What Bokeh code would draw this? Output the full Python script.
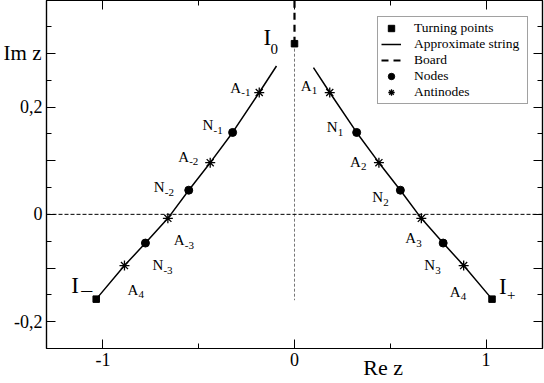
from bokeh.plotting import figure
from bokeh.models import (FixedTicker, LinearAxis, Span, Legend, LegendItem,
                          ColumnDataSource, Range1d)
from bokeh.embed import file_html
from bokeh.resources import INLINE
from bokeh.core.properties import value

# ---------------- data ----------------
# approximate string, left branch (from upper end down to I_-)
string_left_re = [-0.094, -0.184, -0.323, -0.440, -0.552, -0.661, -0.778, -0.8875, -1.035]
string_left_im = [0.2765, 0.227, 0.1526, 0.0963, 0.045, -0.0075, -0.0535, -0.0955, -0.158]
# approximate string, right branch (from upper end down to I_+)
string_right_re = [0.099, 0.184, 0.3245, 0.4406, 0.5526, 0.662, 0.776, 0.883, 1.031]
string_right_im = [0.2735, 0.227, 0.1526, 0.0963, 0.045, -0.0075, -0.0535, -0.0955, -0.158]

# turning points I_-, I_0, I_+
turn_names = ["I-", "I0", "I+"]
turn_re = [-1.035, 0.0, 1.031]
turn_im = [-0.158, 0.318, -0.158]

# nodes
node_names = ["N-3", "N-2", "N-1", "N1", "N2", "N3"]
node_re = [-0.778, -0.552, -0.323, 0.3245, 0.5526, 0.776]
node_im = [-0.0535, 0.045, 0.1526, 0.1526, 0.045, -0.0535]

# antinodes
anti_names = ["A4L", "A-3", "A-2", "A-1", "A1", "A2", "A3", "A4R"]
anti_re = [-0.8875, -0.661, -0.440, -0.184, 0.184, 0.4406, 0.662, 0.883]
anti_im = [-0.0955, -0.0075, 0.0963, 0.227, 0.227, 0.0963, -0.0075, -0.0955]

# board (from I_0 upwards) and thin guide below I_0
board_re = [0.0, 0.0]
board_im = [0.318, 0.45]
guide_re = [0.0, 0.0]
guide_im = [0.318, -0.16]

x_ticks = [-1, 0, 1]
x_minor = [-0.5, 0.5]
x_tick_labels = {-1: "-1", 0: "0", 1: "1"}
y_ticks = [-0.2, -0.1, 0, 0.1, 0.2, 0.3]
y_minor = [-0.15, -0.05, 0.05, 0.15, 0.25, 0.35]
y_tick_labels = {-0.2: "-0,2", -0.1: " ", 0: "0", 0.1: " ", 0.2: "0,2", 0.3: " "}
# axis titles and where along their axis they sit
x_title, x_title_at = "Re z", 0.4625
y_title, y_title_at = "Im z", 0.3

# point labels: (point name, main text, subscript)
label_defs = [
    ("A-1", "A", "-1"), ("N-1", "N", "-1"), ("A-2", "A", "-2"), ("N-2", "N", "-2"),
    ("A-3", "A", "-3"), ("N-3", "N", "-3"), ("A4L", "A", "4"), ("I-", "I", "\u2013"),
    ("A1", "A", "1"), ("N1", "N", "1"), ("A2", "A", "2"), ("N2", "N", "2"),
    ("A3", "A", "3"), ("N3", "N", "3"), ("A4R", "A", "4"), ("I+", "I", "+"),
    ("I0", "I", "0"),
]
# screen offsets (px) of each label's main letter and subscript from its point
label_offsets = {
    "A-1": (-29, -5, -18, 0), "N-1": (-30, -7, -19, -2), "A-2": (-32, -6, -21, -1),
    "N-2": (-35, -3, -24, 2), "A-3": (6, 22, 17, 27), "N-3": (7, 22, 18, 27),
    "A4L": (3, 24, 14, 29), "I-": (-25, -14, -15, -10),
    "A1": (-29, -7, -18, -2), "N1": (-30, -5, -19, 0), "A2": (-29, -1, -18, 4),
    "N2": (-28, 7, -17, 12), "A3": (-16, 20, -5, 25), "N3": (-19, 22, -8, 27),
    "A4R": (-14, 26, -3, 31), "I+": (7, -13, 15, -4), "I0": (-31, -6, -24, 5),
}

FONT = "Liberation Serif"

p = figure(width=544, height=383, output_backend="svg", toolbar_location=None,
           x_range=Range1d(-1.2945, 1.2945), y_range=Range1d(-0.25, 0.3985),
           min_border_left=45, min_border_right=2, min_border_top=0, min_border_bottom=35,
           x_axis_location=None, y_axis_location=None)
p.xgrid.visible = False
p.ygrid.visible = False
p.outline_line_color = "black"
p.outline_line_width = 1.2
p.background_fill_color = "white"
p.border_fill_color = "white"


def style_axis(ax, ticks, minor, labels, show):
    ax.ticker = FixedTicker(ticks=ticks, minor_ticks=minor)
    ax.major_tick_in = 9
    ax.major_tick_out = 0
    ax.minor_tick_in = 5
    ax.minor_tick_out = 0
    ax.major_tick_line_color = "black"
    ax.minor_tick_line_color = "black"
    ax.axis_line_color = "black"
    ax.axis_line_width = 1.2
    ax.major_tick_line_width = 1
    ax.minor_tick_line_width = 1
    if show:
        ax.major_label_overrides = labels
        ax.major_label_text_font = FONT
        ax.major_label_text_font_size = "18px"
        ax.major_label_text_color = "black"
        ax.major_label_standoff = 4
    else:
        ax.major_label_text_font_size = "0px"
        ax.major_label_text_color = None
        ax.major_label_standoff = 0


def title_axis(at, text, size, standoff, line_height=1.2):
    ax = LinearAxis(ticker=FixedTicker(ticks=[at], minor_ticks=[]))
    ax.major_label_overrides = {at: text}
    ax.major_label_text_font = FONT
    ax.major_label_text_font_size = size
    ax.major_label_text_line_height = line_height
    ax.major_label_text_color = "black"
    ax.major_label_standoff = standoff
    ax.axis_line_color = None
    ax.major_tick_line_color = None
    ax.minor_tick_line_color = None
    ax.major_tick_in = 0
    ax.major_tick_out = 0
    return ax


xb = LinearAxis()
style_axis(xb, x_ticks, x_minor, x_tick_labels, True)
p.add_layout(xb, "below")
p.add_layout(title_axis(x_title_at, x_title, "22px", -14, 0.7), "below")
yl = LinearAxis()
style_axis(yl, y_ticks, y_minor, y_tick_labels, True)
p.add_layout(yl, "left")
p.add_layout(title_axis(y_title_at, y_title, "21px", -30), "left")
xa = LinearAxis()
style_axis(xa, x_ticks, x_minor, {}, False)
p.add_layout(xa, "above")
yr = LinearAxis()
style_axis(yr, y_ticks, y_minor, {}, False)
p.add_layout(yr, "right")

# zero line
p.add_layout(Span(location=0, dimension="width", line_color="black",
                  line_width=1, line_dash="4 2"))
# thin guide below I_0
p.line(guide_re, guide_im, line_color="#777777", line_width=1, line_dash="3 2")

# board
r_board = p.line(board_re, board_im, line_color="black", line_width=2.2, line_dash="7 5")
# string
r_str = p.multi_line([string_left_re, string_right_re], [string_left_im, string_right_im],
                     line_color="black", line_width=1.5)
# points
r_nodes = p.scatter(node_re, node_im, marker="circle", size=8, fill_color="black",
                    line_color="black")
r_anti = p.scatter(anti_re, anti_im, marker="asterisk", size=10, line_color="black",
                   line_width=1.3)
r_turn = p.scatter(turn_re, turn_im, marker="square", size=6.5, fill_color="black",
                   line_color="black")

# point labels
coords = {}
for n, x, y in zip(turn_names, turn_re, turn_im):
    coords[n] = (x, y)
for n, x, y in zip(node_names, node_re, node_im):
    coords[n] = (x, y)
for n, x, y in zip(anti_names, anti_re, anti_im):
    coords[n] = (x, y)

main = dict(x=[], y=[], t=[], dx=[], dy=[], fs=[])
sub = dict(x=[], y=[], t=[], dx=[], dy=[], fs=[])
for name, mt, st in label_defs:
    x, y = coords[name]
    dx, dy, sdx, sdy = label_offsets[name]
    big = mt == "I"
    main["x"].append(x); main["y"].append(y); main["t"].append(mt)
    main["dx"].append(dx); main["dy"].append(dy)
    main["fs"].append("23px" if big else "15px")
    sub["x"].append(x); sub["y"].append(y); sub["t"].append(st)
    sub["dx"].append(sdx); sub["dy"].append(sdy)
    sub["fs"].append(("22px" if st == "\u2013" else "15px") if big else "11px")

p.text(x="x", y="y", text="t", x_offset="dx", y_offset="dy", source=ColumnDataSource(main),
       text_font=value(FONT), text_font_size="fs", text_align="left",
       text_baseline="alphabetic", text_color="black")
p.text(x="x", y="y", text="t", x_offset="dx", y_offset="dy", source=ColumnDataSource(sub),
       text_font=value(FONT), text_font_size="fs", text_align="left",
       text_baseline="alphabetic", text_color="black")

legend = Legend(items=[
    LegendItem(label="Turning points", renderers=[r_turn]),
    LegendItem(label="Approximate string", renderers=[r_str]),
    LegendItem(label="Board", renderers=[r_board]),
    LegendItem(label="Nodes", renderers=[r_nodes]),
    LegendItem(label="Antinodes", renderers=[r_anti]),
], location=(331, 244))
legend.label_text_font = FONT
legend.label_text_font_size = "13.5px"
legend.label_text_color = "black"
legend.glyph_width = 20
legend.glyph_height = 16
legend.label_height = 16
legend.label_width = 110
legend.label_standoff = 13
legend.spacing = 0
legend.padding = 3
legend.margin = 0
legend.border_line_color = "#444444"
legend.border_line_width = 1
legend.background_fill_color = "white"
legend.background_fill_alpha = 1
p.add_layout(legend, "center")

open("out.html", "w").write(file_html(p, INLINE))
